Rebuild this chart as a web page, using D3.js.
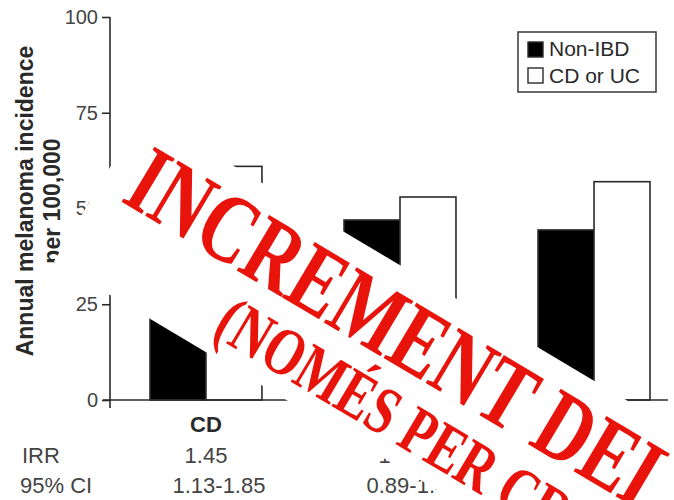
<!DOCTYPE html>
<html>
<head>
<meta charset="utf-8">
<script src="https://cdn.jsdelivr.net/npm/d3@7"></script>
<style>
  html, body { margin: 0; padding: 0; background: #fff; }
  svg { display: block; font-family: "Liberation Sans", Arial, sans-serif; }
</style>
</head>
<body>
<svg id="chart" width="674" height="500"></svg>
<script>
// Melanoma incidence per 100,000 person-years, by group
const categories = ["CD", "UC", "IBD"];
const seriesNames = ["Non-IBD", "CD or UC"];
const nonIbd = [42, 47, 44.4];
const cdOrUc = [61, 53, 57];
const irr = ["1.45", "1.12", "1.29"];
const ci = ["1.13-1.85", "0.89-1.41", "1.10-1.52"];
const yTicks = [0, 25, 50, 75, 100];
const stampLine1 = "INCREMENT DEL RISC";
const stampLine2 = "(NOMÉS PER CROHN)";

const svg = d3.select("#chart");
const ink = "#2a2a2a";

const y = d3.scaleLinear().domain([0, 100]).range([400, 17]);
const x = d3.scaleBand().domain(categories).range([150, 650]).paddingInner(0.423);
const xs = d3.scaleBand().domain(seriesNames).range([0, x.bandwidth()]);
const fills = { "Non-IBD": "#000", "CD or UC": "#fff" };

// Bars
const rows = categories.map((c, i) => ({ cat: c, values: [
  { s: "Non-IBD", v: nonIbd[i] }, { s: "CD or UC", v: cdOrUc[i] }
]}));
const groups = svg.append("g").selectAll("g").data(rows).join("g")
  .attr("transform", d => `translate(${x(d.cat)},0)`);
groups.selectAll("rect").data(d => d.values).join("rect")
  .attr("x", d => xs(d.s))
  .attr("y", d => y(d.v))
  .attr("width", xs.bandwidth())
  .attr("height", d => y(0) - y(d.v))
  .attr("fill", d => fills[d.s])
  .attr("stroke", ink)
  .attr("stroke-width", 1.6);

// Y axis
const yAxis = svg.append("g").attr("transform", "translate(110,0)")
  .call(d3.axisLeft(y).tickValues(yTicks).tickSize(8).tickPadding(4));
yAxis.select(".domain").remove();
yAxis.selectAll(".tick line").attr("stroke", ink).attr("stroke-width", 1.6);
yAxis.selectAll(".tick text").attr("fill", "#444")
  .style("font-family", '"Liberation Sans", Arial, sans-serif').style("font-size", "20px");
svg.append("line").attr("x1", 110).attr("x2", 110).attr("y1", y(100)).attr("y2", y(0) + 8)
  .attr("stroke", ink).attr("stroke-width", 1.6);
// X baseline
svg.append("line").attr("x1", 103).attr("x2", 668).attr("y1", y(0)).attr("y2", y(0))
  .attr("stroke", ink).attr("stroke-width", 1.6);

// Y axis title
const yt = svg.append("g").attr("fill", ink).style("font-weight", "bold").style("font-size", "23px")
  .attr("text-anchor", "middle");
yt.append("text").attr("transform", "translate(33,201) rotate(-90)").text("Annual melanoma incidence");
yt.append("text").attr("transform", "translate(60,201) rotate(-90)").text("per 100,000");

// Category labels and statistics rows
svg.append("g").selectAll("text").data(categories).join("text")
  .attr("x", d => x(d) + x.bandwidth() / 2).attr("y", 432)
  .attr("text-anchor", "middle").attr("fill", ink)
  .style("font-weight", "bold").style("font-size", "22px").text(d => d);
svg.append("text").attr("x", 22).attr("y", 463).attr("fill", "#444").style("font-size", "22px").text("IRR");
svg.append("text").attr("x", 20).attr("y", 493).attr("fill", "#444").style("font-size", "22px").text("95% CI");
svg.append("g").selectAll("text").data(irr).join("text")
  .attr("x", (d, i) => x(categories[i]) + x.bandwidth() / 2).attr("y", 463)
  .attr("text-anchor", "middle").attr("fill", "#444").style("font-size", "22px").text(d => d);
svg.append("g").selectAll("text").data(ci).join("text")
  .attr("x", (d, i) => x(categories[i]) + x.bandwidth() / 2 + 13).attr("y", 493)
  .attr("text-anchor", "middle").attr("fill", "#444").style("font-size", "22px").text(d => d);

// Legend
const lg = svg.append("g");
lg.append("rect").attr("x", 518).attr("y", 32).attr("width", 138).attr("height", 60)
  .attr("fill", "#fff").attr("stroke", "#444").attr("stroke-width", 1.6);
seriesNames.forEach((s, i) => {
  lg.append("rect").attr("x", 528).attr("y", 42 + i * 26).attr("width", 15).attr("height", 15)
    .attr("fill", fills[s]).attr("stroke", ink).attr("stroke-width", 1.4);
  lg.append("text").attr("x", 549).attr("y", 56 + i * 27).attr("fill", ink)
    .style("font-size", "21px").text(s);
});

// Stamp banner across the chart
const stamp = svg.append("g").attr("transform", "translate(143,112) rotate(30.8)");
stamp.append("rect").attr("x", 0).attr("y", 0).attr("width", 1000).attr("height", 174).attr("fill", "#fff");
const red = "#e8130b";
stamp.append("text").attr("transform", "translate(25,88) scale(0.75,1)")
  .attr("fill", red).style("font-family", '"Liberation Serif", "DejaVu Serif", serif')
  .style("font-weight", "bold").style("font-size", "98px").text(stampLine1);
stamp.append("text").attr("transform", "translate(172,156) scale(0.74,1)")
  .attr("fill", red).style("font-family", '"Liberation Serif", "DejaVu Serif", serif')
  .style("font-weight", "bold").style("font-size", "68px").text(stampLine2);
</script>
</body>
</html>
